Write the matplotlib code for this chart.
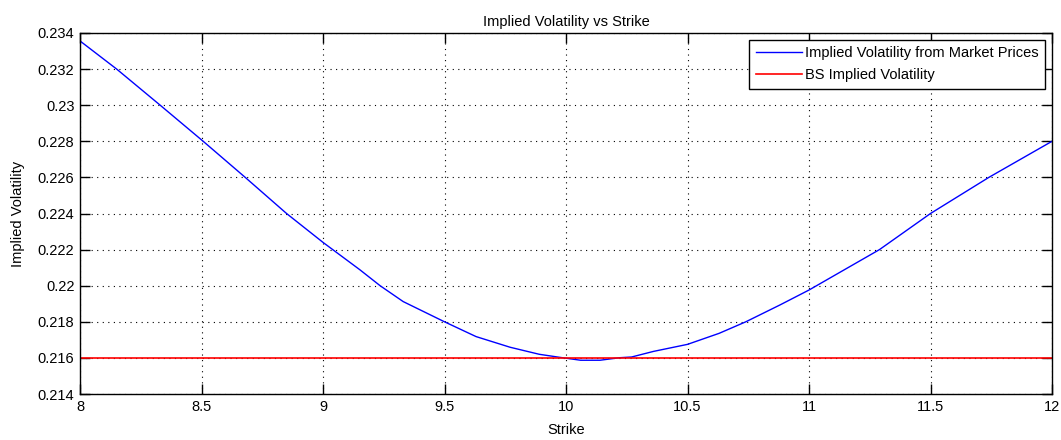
import matplotlib
matplotlib.use("Agg")
import matplotlib.pyplot as plt

strike = [8.00, 8.151, 8.33, 8.507, 8.68, 8.85, 9.00, 9.04, 9.152, 9.235, 9.33, 9.50, 9.63,
          9.77, 9.89, 9.975, 10.06, 10.14, 10.22, 10.27, 10.36, 10.50, 10.63, 10.74, 10.88,
          11.00, 11.29, 11.50, 11.74, 12.00]
iv_market = [0.23356, 0.2320, 0.2300, 0.2280, 0.2260, 0.2240, 0.2224, 0.2220, 0.22088, 0.2200,
             0.21912, 0.2180, 0.21718, 0.21659, 0.2162, 0.21603, 0.21587, 0.21587, 0.21601,
             0.21605, 0.21636, 0.21675, 0.21736, 0.2180, 0.21893, 0.21976, 0.2220, 0.2240,
             0.2260, 0.2280]
bs_iv = 0.216
xticks = [8, 8.5, 9, 9.5, 10, 10.5, 11, 11.5, 12]
yticks = [0.214, 0.216, 0.218, 0.22, 0.222, 0.224, 0.226, 0.228, 0.23, 0.232, 0.234]
ytick_labels = ["0.214", "0.216", "0.218", "0.22", "0.222", "0.224", "0.226", "0.228", "0.23", "0.232", "0.234"]

plt.rcParams['font.family'] = ['Liberation Sans', 'DejaVu Sans']

fig = plt.figure(figsize=(10.61, 4.4), dpi=100)
ax = fig.add_axes([80/1061, 46/440, 972/1061, 361/440])

ax.plot(strike, iv_market, color='#0000ff', lw=1.0, label='Implied Volatility from Market Prices')
ax.plot([strike[0], strike[-1]], [bs_iv, bs_iv], color='#ff0000', lw=1.2, label='BS Implied Volatility')

ax.set_xlim(8, 12)
ax.set_ylim(0.214, 0.234)
ax.set_xticks(xticks)
ax.set_xticklabels([f"{t:g}" for t in xticks])
ax.set_yticks(yticks)
ax.set_yticklabels(ytick_labels)
ax.grid(True, color='black', linestyle=(0, (1, 4)), linewidth=0.8)
ax.tick_params(direction='in', length=7, width=1, top=True, right=True, labelsize=10.5, pad=4)
for s in ax.spines.values():
    s.set_linewidth(1.0)

ax.set_title('Implied Volatility vs Strike', fontsize=10.5, pad=5)
ax.set_xlabel('Strike', fontsize=10.5, labelpad=7)
ax.set_ylabel('Implied Volatility', fontsize=10.5, labelpad=9)

leg = ax.legend(loc='upper right', fontsize=10.5, fancybox=False, edgecolor='black',
                framealpha=1, handlelength=3.2, borderaxespad=0.45, borderpad=0.45,
                labelspacing=0.55, handletextpad=0.2)
leg.get_frame().set_linewidth(1.0)

fig.savefig('out.png', dpi=100)
